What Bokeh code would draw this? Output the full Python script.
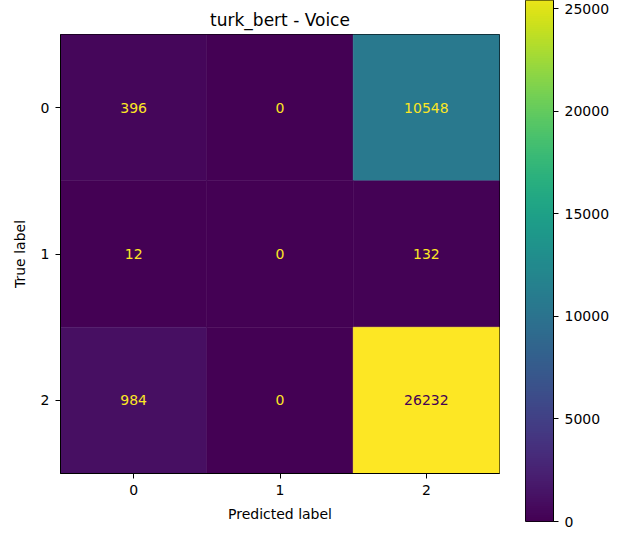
import numpy as np
from bokeh.plotting import figure
from bokeh.models import ColumnDataSource, LinearColorMapper, FixedTicker, Range1d
from bokeh.palettes import Viridis256
from bokeh.layouts import row
from bokeh.embed import file_html
from bokeh.resources import INLINE
from bokeh.core.properties import value

title = "turk_bert - Voice"
labels = [0, 1, 2]
matrix = [
    [396, 0, 10548],
    [12, 0, 132],
    [984, 0, 26232],
]
cbar_ticks = [0, 5000, 10000, 15000, 20000, 25000]

FONT = "DejaVu Sans"
vmin = 0
vmax = max(max(r) for r in matrix)
mapper = LinearColorMapper(palette=Viridis256, low=vmin, high=vmax)

xs, ys, vals, txt, tcol, fcol = [], [], [], [], [], []
thresh = (vmin + vmax) / 2.0
for i, r in enumerate(matrix):
    for j, v in enumerate(r):
        xs.append(labels[j]); ys.append(labels[i]); vals.append(v)
        txt.append(str(v))
        tcol.append(Viridis256[-1] if v < thresh else Viridis256[0])
        idx = int(round((v - vmin) / (vmax - vmin) * 255))
        fcol.append(Viridis256[idx])
src = ColumnDataSource(dict(x=xs, y=ys, v=vals, t=txt, tc=tcol, fc=fcol))

H = 532
p = figure(width=512, height=H, output_backend="svg", toolbar_location=None,
           x_range=Range1d(-0.5, 2.5), y_range=Range1d(2.5, -0.5),
           min_border_left=60, min_border_right=13, min_border_top=34,
           min_border_bottom=H - 34 - 439, title=title, frame_align=False)
p.rect(x="x", y="y", width=1, height=1, source=src, fill_color="fc", line_color="fc", line_width=0.5)
p.text(x="x", y="y", text="t", source=src, text_color="tc", text_align="center",
       text_baseline="middle", text_font=value(FONT), text_font_size="14px")

p.title.text_font = FONT
p.title.text_font_style = "normal"
p.title.text_font_size = "17px"
p.title.align = "center"
p.title.text_color = "black"
p.grid.visible = False
p.outline_line_color = "black"
p.outline_line_width = 1
for ax in (p.xaxis, p.yaxis):
    ax.ticker = FixedTicker(ticks=labels)
    ax.minor_tick_line_color = None
    ax.major_tick_in = 0
    ax.major_tick_out = 5
    ax.major_label_standoff = 6
    ax.major_label_text_font = FONT
    ax.major_label_text_font_size = "14px"
    ax.major_label_text_color = "black"
    ax.axis_label_text_font = FONT
    ax.axis_label_text_font_size = "14px"
    ax.axis_label_text_font_style = "normal"
    ax.axis_label_text_color = "black"
    ax.axis_line_color = "black"
p.xaxis.axis_label = "Predicted label"
p.yaxis.axis_label = "True label"
p.xaxis.axis_label_standoff = 8
p.yaxis.axis_label_standoff = 10
p.yaxis.major_label_orientation = "horizontal"

# colorbar as its own figure
CB_BOTTOM = 521
cb = figure(width=105, height=H, output_backend="svg", toolbar_location=None,
            x_range=Range1d(0, 1), y_range=Range1d(vmin, 25390),
            y_axis_location="right", x_axis_location=None,
            min_border_left=13, min_border_right=64, min_border_top=0,
            min_border_bottom=H - CB_BOTTOM, frame_align=False)
grad = np.linspace(vmin, vmax, 512).reshape(512, 1)
cb.image(image=[grad], x=0, y=vmin, dw=1, dh=vmax - vmin, color_mapper=mapper)
cb.grid.visible = False
cb.outline_line_color = "black"
cb.yaxis.ticker = FixedTicker(ticks=cbar_ticks)
cb.yaxis.minor_tick_line_color = None
cb.yaxis.major_tick_in = 0
cb.yaxis.major_tick_out = 5
cb.yaxis.major_label_standoff = 6
cb.yaxis.major_label_text_font = FONT
cb.yaxis.major_label_text_font_size = "14px"
cb.yaxis.major_label_text_color = "black"
cb.yaxis.axis_line_color = "black"

layout = row(p, cb, spacing=0)
open("out.html", "w").write(file_html(layout, INLINE))
